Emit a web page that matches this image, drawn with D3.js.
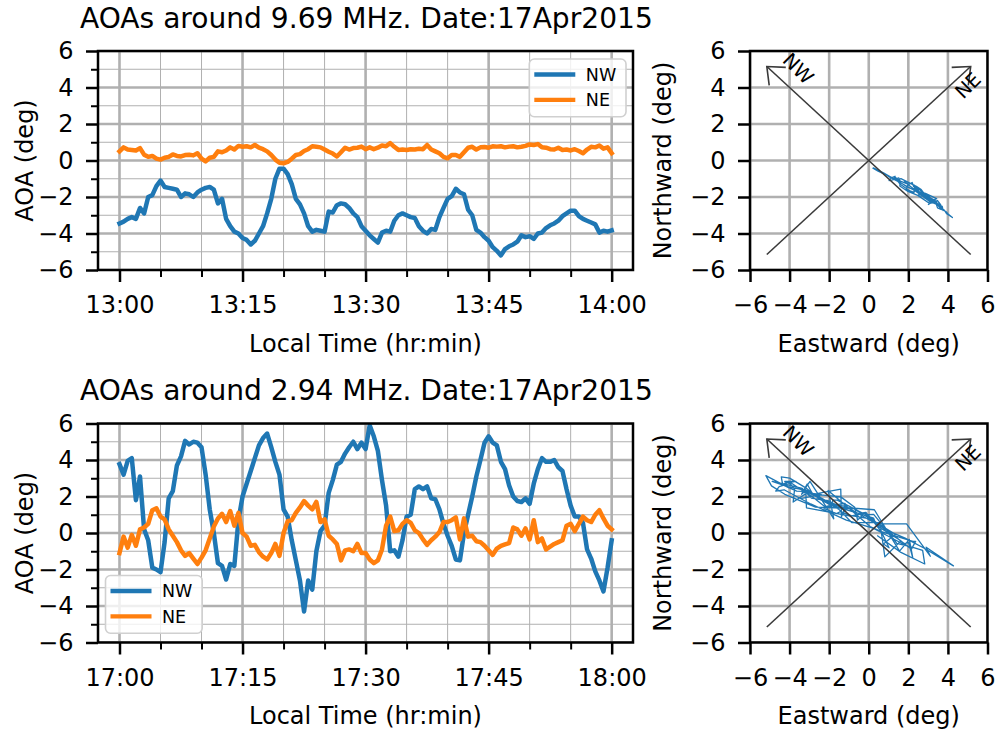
<!DOCTYPE html>
<html>
<head>
<meta charset="utf-8">
<script src="https://cdn.jsdelivr.net/npm/d3@7"></script>
<style>
  html, body { margin: 0; padding: 0; background: #fff; }
  svg { display: block; font-family: "DejaVu Sans", sans-serif; }
</style>
</head>
<body>
<svg id="fig" width="1008" height="731"></svg>
<script>
// Angle-of-arrival samples (deg), one every 30 s across the hour.
// 9.69 MHz, 13:00 - 14:00 local time
const topNW = [
  -3.45,-3.35,-3.2,-3.1,-3.2,-2.6,-2.9,-2.0,-1.9,-1.4,
  -1.1,-1.45,-1.5,-1.55,-1.6,-2.0,-1.8,-1.85,-2.0,-1.75,
  -1.6,-1.5,-1.45,-1.6,-2.35,-2.1,-3.2,-3.6,-3.9,-4.0,
  -4.25,-4.35,-4.6,-4.4,-4.0,-3.6,-2.9,-2.1,-1.0,-0.45,
  -0.45,-0.75,-1.3,-2.1,-2.4,-2.9,-3.6,-3.9,-3.8,-3.85,
  -3.9,-2.8,-2.85,-2.45,-2.35,-2.4,-2.6,-2.9,-3.1,-3.6,
  -3.85,-4.1,-4.3,-4.5,-3.95,-3.85,-3.9,-3.3,-3.0,-2.9,
  -3.0,-3.1,-3.15,-3.6,-3.85,-4.0,-3.75,-3.8,-3.1,-2.6,
  -2.1,-1.95,-1.55,-1.75,-1.85,-2.7,-3.0,-3.8,-3.95,-4.2,
  -4.4,-4.75,-4.95,-5.2,-4.85,-4.7,-4.6,-4.45,-4.1,-4.2,
  -4.15,-4.3,-4.0,-3.95,-3.7,-3.55,-3.45,-3.3,-3.05,-2.9,
  -2.75,-2.75,-3.05,-3.2,-3.3,-3.4,-3.5,-3.95,-3.85,-3.9,
  -3.83
];
const topNE = [
  0.5,0.72,0.6,0.58,0.55,0.68,0.32,0.2,0.25,0.1,
  0.05,0.15,0.2,0.33,0.25,0.22,0.3,0.32,0.28,0.4,
  0.1,-0.05,0.15,0.2,0.5,0.45,0.55,0.72,0.6,0.8,
  0.75,0.78,0.72,0.85,0.7,0.62,0.5,0.3,0.05,-0.12,
  -0.15,-0.08,0.1,0.3,0.35,0.52,0.62,0.78,0.75,0.72,
  0.6,0.48,0.38,0.22,0.45,0.7,0.6,0.68,0.7,0.76,
  0.62,0.72,0.62,0.7,0.82,0.78,0.95,0.75,0.58,0.6,
  0.58,0.62,0.6,0.64,0.62,0.85,0.6,0.5,0.4,0.2,
  0.12,0.3,0.3,0.2,0.45,0.7,0.75,0.6,0.72,0.74,
  0.7,0.78,0.76,0.78,0.72,0.76,0.78,0.72,0.75,0.8,
  0.88,0.85,0.9,0.72,0.7,0.62,0.6,0.7,0.58,0.6,
  0.55,0.62,0.52,0.4,0.6,0.75,0.72,0.82,0.65,0.72,
  0.4
];
// 2.94 MHz, 17:00 - 18:00 local time
const bottomNW = [
  3.77,3.2,3.95,4.1,1.8,3.1,0.2,-0.4,-1.9,-2.0,
  -2.15,-0.5,1.9,2.3,3.7,4.2,5.05,4.85,5.0,4.95,
  4.7,3.2,1.3,0.0,-1.65,-1.8,-2.55,-1.7,-1.8,0.7,
  2.0,2.7,3.4,4.1,4.8,5.2,5.45,4.7,3.9,3.2,
  1.3,0.9,-0.4,-1.5,-2.6,-4.3,-2.6,-3.1,-1.0,0.1,
  0.4,2.2,2.9,3.75,3.9,4.35,4.7,5.0,4.6,4.95,
  4.6,5.9,5.3,4.5,2.9,1.5,-1.0,-0.95,-1.3,-0.4,
  0.9,1.0,2.4,2.55,2.4,2.55,1.9,1.85,1.3,0.5,
  -0.15,-0.7,-1.45,-1.5,0.0,1.0,2.0,3.1,4.0,4.95,
  5.3,4.95,4.8,3.9,3.5,2.6,2.0,1.75,1.7,1.9,
  1.6,2.7,3.5,4.1,3.9,3.9,4.0,3.6,3.4,2.4,
  1.5,0.9,0.9,0.55,-0.9,-1.4,-2.1,-2.6,-3.2,-1.9,
  -0.4
];
const bottomNE = [
  -1.1,-0.2,-0.8,-0.1,-0.7,0.2,0.3,0.5,1.25,1.35,
  0.9,0.75,0.2,-0.15,-0.5,-0.95,-1.25,-1.1,-1.4,-1.7,
  -1.35,-0.95,-0.3,0.35,0.8,1.05,0.6,1.2,0.4,1.1,
  0.0,-0.2,-0.7,-0.65,-1.05,-1.3,-1.45,-1.1,-0.6,-1.25,
  0.0,0.65,0.7,1.1,1.4,1.75,1.5,1.3,1.7,0.6,
  0.75,-0.15,-0.35,-0.6,-1.5,-0.95,-0.9,-1.0,-0.6,-1.1,
  -1.1,-1.45,-1.65,-1.5,-0.9,0.4,0.9,0.1,0.15,0.5,
  0.7,0.55,0.15,0.0,-0.35,-0.65,-0.4,-0.2,0.05,0.6,
  0.6,0.7,0.85,-0.35,0.8,-0.2,-0.15,-0.45,-0.5,-0.7,
  -0.95,-1.2,-0.85,-0.7,-0.62,-0.55,0.3,0.2,-0.15,0.25,
  -0.35,0.7,-0.5,-0.3,-0.9,-0.75,-0.6,-0.5,-0.4,0.4,
  0.5,0.1,0.5,0.9,0.7,0.6,1.0,1.25,0.8,0.4,
  0.2
];

const topTickLabels = ["13:00", "13:15", "13:30", "13:45", "14:00"];
const bottomTickLabels = ["17:00", "17:15", "17:30", "17:45", "18:00"];
const majorMinutes = [0, 15, 30, 45, 60];
const minorMinutes = [5, 10, 20, 25, 35, 40, 50, 55];
const aoaTicks = [-6, -4, -2, 0, 2, 4, 6];
const aoaMinorTicks = [-5, -3, -1, 1, 3, 5];
const titles = ["AOAs around 9.69 MHz. Date:17Apr2015", "AOAs around 2.94 MHz. Date:17Apr2015"];
const seriesNames = ["NW", "NE"];
const seriesColors = ["#1f77b4", "#ff7f0e"];

const svg = d3.select("#fig");
const GRID = "#b0b0b0";
const TICK_FONT = 24, LABEL_FONT = 24, TITLE_FONT = 28.1, LEGEND_FONT = 17.5, ARROW_FONT = 19.5;

function styleAxis(g, width) {
  g.select(".domain").remove();
  g.selectAll(".tick line").attr("stroke", "#000").attr("stroke-width", width);
  g.selectAll(".tick text").attr("fill", "#000").style("font-size", TICK_FONT + "px")
    .style("font-family", "'DejaVu Sans', sans-serif");
}

function drawRow(row, nw, ne, tickLabels, title, legendAt) {
  const dy = row * 372.5;
  const y0 = 51 + dy, y1 = 270 + dy;
  const lx0 = 98, lx1 = 633;
  const rx0 = 750, rx1 = 987.5;

  // ---------- time series panel ----------
  const x = d3.scaleLinear().domain([-2.62, 62.6]).range([lx0, lx1]);
  const y = d3.scaleLinear().domain([-6, 6]).range([y1, y0]);
  const g = svg.append("g");

  const clipId = "clipL" + row;
  svg.append("clipPath").attr("id", clipId)
    .append("rect").attr("x", lx0).attr("y", y0).attr("width", lx1 - lx0).attr("height", y1 - y0);

  // grid: thin minor lines first, thick major lines on top
  const grid = g.append("g").attr("clip-path", `url(#${clipId})`);
  grid.selectAll(".vmin").data(minorMinutes).join("line")
    .attr("x1", d => x(d)).attr("x2", d => x(d)).attr("y1", y0).attr("y2", y1)
    .attr("stroke", GRID).attr("stroke-width", 1);
  grid.selectAll(".hmin").data(aoaMinorTicks).join("line")
    .attr("x1", lx0).attr("x2", lx1).attr("y1", d => y(d)).attr("y2", d => y(d))
    .attr("stroke", GRID).attr("stroke-width", 1);
  grid.selectAll(".vmaj").data(majorMinutes).join("line")
    .attr("x1", d => x(d)).attr("x2", d => x(d)).attr("y1", y0).attr("y2", y1)
    .attr("stroke", GRID).attr("stroke-width", 2.6);
  grid.selectAll(".hmaj").data(aoaTicks).join("line")
    .attr("x1", lx0).attr("x2", lx1).attr("y1", d => y(d)).attr("y2", d => y(d))
    .attr("stroke", GRID).attr("stroke-width", 2.6);

  // series lines
  const lines = g.append("g").attr("clip-path", `url(#${clipId})`);
  [nw, ne].forEach((s, k) => {
    const step = 60 / (s.length - 1);
    const line = d3.line().x((d, i) => x(i * step)).y(d => y(d));
    lines.append("path").datum(s).attr("d", line)
      .attr("fill", "none").attr("stroke", seriesColors[k])
      .attr("stroke-width", 4.5).attr("stroke-linejoin", "round").attr("stroke-linecap", "square");
  });

  // axes ticks
  const xMaj = g.append("g").attr("transform", `translate(0,${y1})`)
    .call(d3.axisBottom(x).tickValues(majorMinutes).tickSize(12).tickPadding(14)
      .tickFormat((d, i) => tickLabels[i]));
  styleAxis(xMaj, 2.5);
  const xMin = g.append("g").attr("transform", `translate(0,${y1})`)
    .call(d3.axisBottom(x).tickValues(minorMinutes).tickSize(7).tickFormat(""));
  styleAxis(xMin, 2);
  const yMaj = g.append("g").attr("transform", `translate(${lx0},0)`)
    .call(d3.axisLeft(y).tickValues(aoaTicks).tickSize(12).tickPadding(12.5));
  styleAxis(yMaj, 2.5);
  const yMin = g.append("g").attr("transform", `translate(${lx0},0)`)
    .call(d3.axisLeft(y).tickValues(aoaMinorTicks).tickSize(7).tickFormat(""));
  styleAxis(yMin, 2);

  // spines
  g.append("rect").attr("x", lx0).attr("y", y0).attr("width", lx1 - lx0).attr("height", y1 - y0)
    .attr("fill", "none").attr("stroke", "#000").attr("stroke-width", 2.5);

  // legend
  const lw = 96.7, lh = 57.7;
  const bx = legendAt === "upper right" ? lx1 - 7 - lw : lx0 + 7.5;
  const by = legendAt === "upper right" ? y0 + 8 : y1 - 9.3 - lh;
  const leg = g.append("g");
  leg.append("rect").attr("x", bx).attr("y", by).attr("width", lw).attr("height", lh)
    .attr("rx", 5).attr("fill", "#fff").attr("fill-opacity", 0.8)
    .attr("stroke", "#d0d0d0").attr("stroke-width", 1.6);
  seriesNames.forEach((name, k) => {
    const ly = by + 15.5 + k * 25.3;
    leg.append("line").attr("x1", bx + 5).attr("x2", bx + 46).attr("y1", ly).attr("y2", ly)
      .attr("stroke", seriesColors[k]).attr("stroke-width", 4.3);
    leg.append("text").attr("x", bx + 56.5).attr("y", ly + 6.3)
      .style("font-size", LEGEND_FONT + "px").attr("fill", "#000").text(name);
  });

  // labels and title
  g.append("text").attr("x", 80).attr("y", 27.5 + dy)
    .style("font-size", TITLE_FONT + "px").attr("fill", "#000").text(title);
  g.append("text").attr("x", (lx0 + lx1) / 2).attr("y", 351.5 + dy).attr("text-anchor", "middle")
    .style("font-size", LABEL_FONT + "px").attr("fill", "#000").text("Local Time (hr:min)");
  g.append("text").attr("transform", `translate(33,${(y0 + y1) / 2}) rotate(-90)`)
    .attr("text-anchor", "middle").style("font-size", LABEL_FONT + "px").attr("fill", "#000")
    .text("AOA (deg)");

  // ---------- east / north panel ----------
  const sx = d3.scaleLinear().domain([-6, 6]).range([rx0, rx1]);
  const sy = d3.scaleLinear().domain([-6, 6]).range([y1, y0]);
  const h = svg.append("g");
  const clipR = "clipR" + row;
  svg.append("clipPath").attr("id", clipR)
    .append("rect").attr("x", rx0).attr("y", y0).attr("width", rx1 - rx0).attr("height", y1 - y0);

  const rg = h.append("g").attr("clip-path", `url(#${clipR})`);
  rg.selectAll(".v").data(aoaTicks).join("line")
    .attr("x1", d => sx(d)).attr("x2", d => sx(d)).attr("y1", y0).attr("y2", y1)
    .attr("stroke", GRID).attr("stroke-width", 2.6);
  rg.selectAll(".h").data(aoaTicks).join("line")
    .attr("x1", rx0).attr("x2", rx1).attr("y1", d => sy(d)).attr("y2", d => sy(d))
    .attr("stroke", GRID).attr("stroke-width", 2.6);

  // NW and NE baselines rotated into east / north components
  const n = Math.min(nw.length, ne.length);
  const pts = d3.range(n).map(i => [(ne[i] - nw[i]) / Math.SQRT2, (ne[i] + nw[i]) / Math.SQRT2]);
  rg.append("path").datum(pts)
    .attr("d", d3.line().x(d => sx(d[0])).y(d => sy(d[1])))
    .attr("fill", "none").attr("stroke", "#1f77b4").attr("stroke-width", 1.3)
    .attr("stroke-linejoin", "round");

  // antenna baseline arrows
  const arrowColor = "#3a3a3a";
  const arrows = [
    { from: [5.15, -5.15], to: [-5.15, 5.15] },
    { from: [-5.15, -5.15], to: [5.15, 5.15] }
  ];
  arrows.forEach(a => {
    const x1 = sx(a.from[0]), y1a = sy(a.from[1]), x2 = sx(a.to[0]), y2 = sy(a.to[1]);
    h.append("line").attr("x1", x1).attr("y1", y1a).attr("x2", x2).attr("y2", y2)
      .attr("stroke", arrowColor).attr("stroke-width", 1.6);
    const ang = Math.atan2(y1a - y2, x1 - x2);
    const len = 19, spread = 0.7;
    const p1 = [x2 + len * Math.cos(ang + spread), y2 + len * Math.sin(ang + spread)];
    const p2 = [x2 + len * Math.cos(ang - spread), y2 + len * Math.sin(ang - spread)];
    h.append("path").attr("d", `M${p1[0]},${p1[1]}L${x2},${y2}L${p2[0]},${p2[1]}`)
      .attr("fill", "none").attr("stroke", arrowColor).attr("stroke-width", 1.6)
      .attr("stroke-linejoin", "miter");
  });
  h.append("text").attr("transform", `translate(${sx(-3.55)},${sy(5.05)}) rotate(45)`)
    .attr("text-anchor", "middle").attr("dy", "0.36em")
    .style("font-size", ARROW_FONT + "px").attr("fill", "#000").text("NW");
  h.append("text").attr("transform", `translate(${sx(5.0)},${sy(4.12)}) rotate(-45)`)
    .attr("text-anchor", "middle").attr("dy", "0.36em")
    .style("font-size", ARROW_FONT + "px").attr("fill", "#000").text("NE");

  const sxAx = h.append("g").attr("transform", `translate(0,${y1})`)
    .call(d3.axisBottom(sx).tickValues(aoaTicks).tickSize(12).tickPadding(14));
  styleAxis(sxAx, 2.5);
  const syAx = h.append("g").attr("transform", `translate(${rx0},0)`)
    .call(d3.axisLeft(sy).tickValues(aoaTicks).tickSize(12).tickPadding(12.5));
  styleAxis(syAx, 2.5);

  h.append("rect").attr("x", rx0).attr("y", y0).attr("width", rx1 - rx0).attr("height", y1 - y0)
    .attr("fill", "none").attr("stroke", "#000").attr("stroke-width", 2.5);

  h.append("text").attr("x", (rx0 + rx1) / 2).attr("y", 351.5 + dy).attr("text-anchor", "middle")
    .style("font-size", LABEL_FONT + "px").attr("fill", "#000").text("Eastward (deg)");
  h.append("text").attr("transform", `translate(671,${(y0 + y1) / 2}) rotate(-90)`)
    .attr("text-anchor", "middle").style("font-size", LABEL_FONT + "px").attr("fill", "#000")
    .text("Northward (deg)");
}

drawRow(0, topNW, topNE, topTickLabels, titles[0], "upper right");
drawRow(1, bottomNW, bottomNE, bottomTickLabels, titles[1], "lower left");
</script>
</body>
</html>
